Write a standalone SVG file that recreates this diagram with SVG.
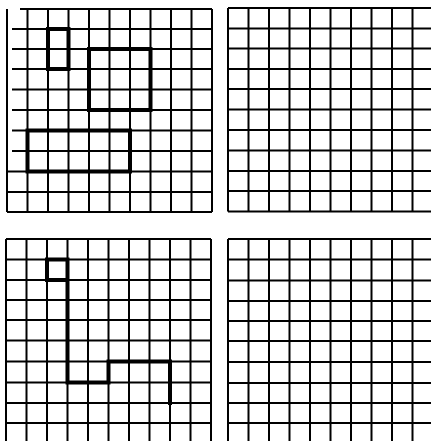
<svg xmlns="http://www.w3.org/2000/svg" width="431" height="441" viewBox="0 0 431 441">
<style>
.g{fill:none;stroke:#000;stroke-width:2}
.t{fill:none;stroke:#000;stroke-width:4;stroke-linecap:square;stroke-linejoin:miter}
</style>
<rect width="431" height="441" fill="#fff"/>
<g id="grid-top-left">
<path class="g" d="M7,9V212M27.5,9V212M48,9V212M68.5,9V212M89,9V212M109.5,9V212M130,9V212M150.5,9V212M171,9V212M191.5,9V212M212,9V212
M20,9H212M12,29H212M12,49H212M12,69H212M12,89.5H212M12,110H212M12,130.5H212M12,151H212M7,171.5H212M7,192H212M7,212H212"/>
<path class="t" d="M48,29H68.5V69H48Z"/>
<path class="t" d="M89,49H150.5V110H89Z"/>
<path class="t" d="M27.5,130.5H130V171.5H27.5Z"/>
</g>
<g id="grid-top-right">
<path class="g" d="M228,8V211.5M248.5,8V211.5M269,8V211.5M289.5,8V211.5M310,8V211.5M330.5,8V211.5M351,8V211.5M371.5,8V211.5M392,8V211.5M412.5,8V211.5
M228,8H431M228,28.5H431M228,48.5H431M228,69H431M228,89H431M228,109.5H431M228,130H431M228,150.5H431M228,171H431M228,191H431M228,211.5H431"/>
</g>
<g id="grid-bottom-left">
<path class="g" d="M6,239V441M26.5,239V441M47,239V441M67.5,239V441M88,239V441M108.5,239V441M129,239V441M149.5,239V441M170,239V441M190.5,239V441M211,239V441
M6,239H211M6,259.5H211M6,280H211M6,300H211M6,320H211M6,340.5H211M6,361.5H211M6,382.5H211M6,403H211M6,423H211"/>
<path class="t" d="M67.5,280H47V259.5H67.5V382.5H108.5V361.5H170V403"/>
</g>
<g id="grid-bottom-right">
<path class="g" d="M228,239V441M248.5,239V441M269,239V441M289.5,239V441M310,239V441M330.5,239V441M351,239V441M371.5,239V441M392,239V441M412.5,239V441
M228,239H431M228,259.5H431M228,280.5H431M228,301H431M228,321H431M228,341H431M228,362H431M228,383H431M228,403H431M228,423H431"/>
</g>
</svg>
